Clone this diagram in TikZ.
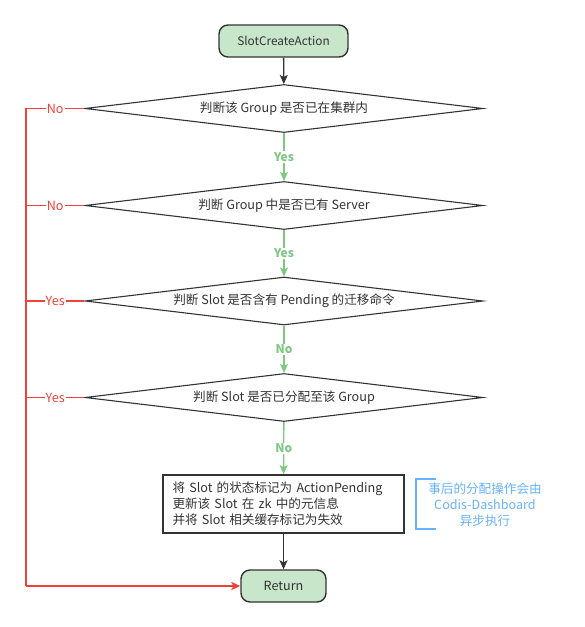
\documentclass[tikz,border=0pt]{standalone}
\usepackage{fontspec}
\setmainfont{Noto Sans CJK SC}
\usetikzlibrary{shapes.geometric,arrows.meta}

\definecolor{boxgreen}{HTML}{C8E6C9}
\definecolor{linedark}{HTML}{333333}
\definecolor{yesgreen}{HTML}{7EC882}
\definecolor{nored}{HTML}{F0413A}
\definecolor{noteblue}{HTML}{66B2FF}

\tikzset{
  tip/.style={-{Stealth[length=9pt,width=8pt,inset=2pt]}},
  terminal/.style={rounded corners=9pt,draw=linedark,line width=1.4pt,fill=boxgreen,
    minimum width=#1,minimum height=32pt,inner sep=0pt},
  check/.style={diamond,aspect=8.3,draw=linedark,line width=1.1pt,fill=white,
    minimum width=398pt,minimum height=48pt,inner sep=0pt},
}

\begin{document}
\begin{tikzpicture}[x=1pt,y=-1pt,font=\fontsize{12.6}{16}\selectfont,text=linedark]
        \useasboundingbox (0,0) rectangle (585,627);

        \node[terminal=129pt,font=\fontsize{11.8}{15}\selectfont] (start)  at (283.5,41)  {SlotCreateAction};

        \begin{scope}[every node/.style={check}]
          \node (group)   at (284,108.5) {判断该 Group 是否已在集群内};
          \node (server)  at (284,205.5) {判断 Group 中是否已有 Server};
          \node (pending) at (284,301)   {判断 Slot 是否含有 Pending 的迁移命令};
          \node (owner)   at (284,397.5) {判断 Slot 是否已分配至该 Group};
        \end{scope}

        \node[draw=linedark,line width=1.6pt,minimum width=241pt,minimum height=58pt,
          align=left,inner sep=0pt,text width=222pt] (update) at (283.5,504)
          {将 Slot 的状态标记为 ActionPending\\更新该 Slot 在 zk 中的元信息\\并将 Slot 相关缓存标记为失效};

        \node[terminal=85pt] (return) at (283.5,586) {Return};

        \coordinate (rail) at (26,586);

        % main flow
        \path[draw=linedark,line width=1.3pt,tip] (start) -- (group);
        \path[draw=linedark,line width=1.3pt,tip] (update) -- (return);

        \begin{scope}[every node/.style={fill=white,text=yesgreen,font=\fontsize{12}{14}\bfseries,inner sep=1pt}]
          \begin{scope}[every edge/.style={draw=yesgreen,line width=1.3pt,tip}]
            \path (group)   edge node {Yes} (server);
            \path (server)  edge node {Yes} (pending);
            \path (pending) edge node {No}  (owner);
            \path (owner)   edge node {No}  (update);
          \end{scope}
        \end{scope}

        % failure branches
        \begin{scope}[every node/.style={fill=white,text=nored,inner sep=1pt},
                      draw=nored,line width=1.3pt]
          \draw (group.west) -- node {No} (group.west -| rail) -- (rail);
          \draw[tip] (rail) -- (return.west);
          \draw (server.west) -- node {No} (server.west -| rail);
          \draw (pending.west) -- node {Yes} (pending.west -| rail);
          \draw (owner.west) -- node {Yes} (owner.west -| rail);
        \end{scope}

        % note
        \draw[noteblue,line width=1.4pt] (436,479) -- (416,479) -- (416,529) -- (436,529);
        \node[text=noteblue,align=center] (note) at (485,505)
          {事后的分配操作会由\\Codis-Dashboard\\异步执行};

      \end{tikzpicture}
\end{document}
